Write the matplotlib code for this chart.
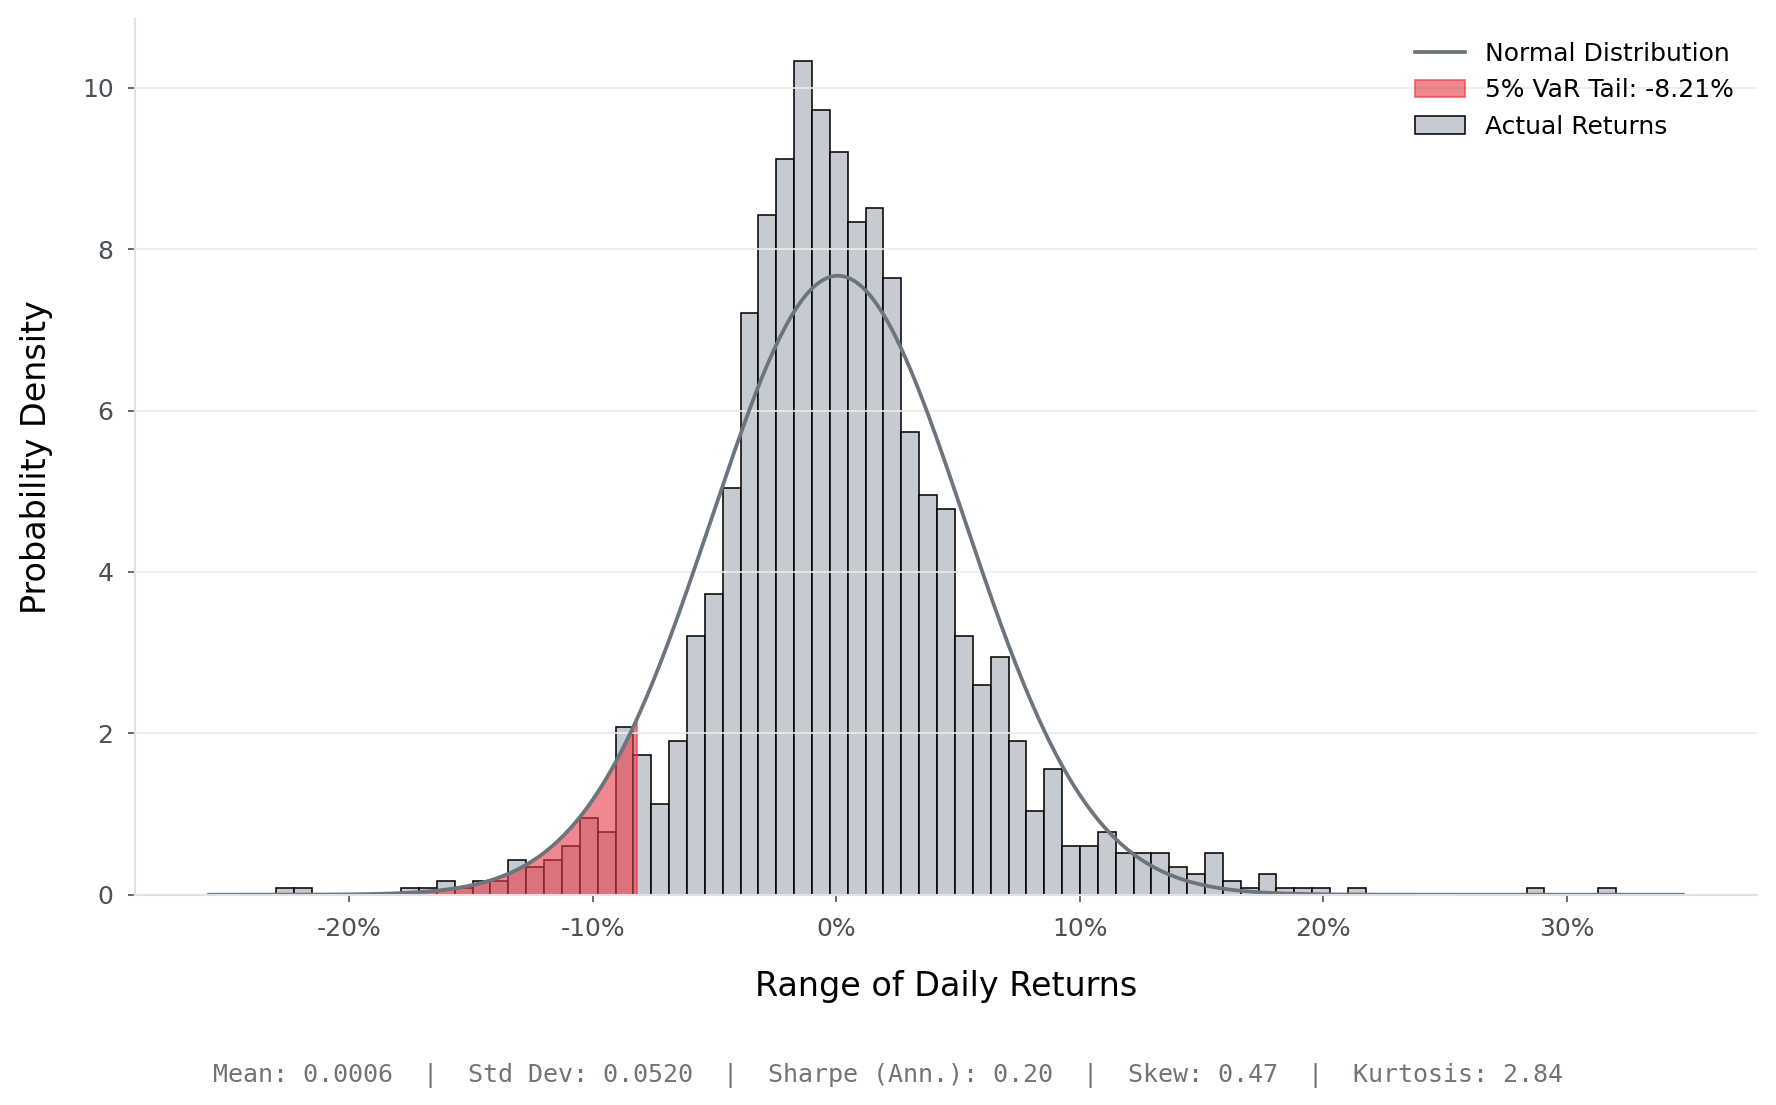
import numpy as np
import matplotlib
matplotlib.use("Agg")
import matplotlib.pyplot as plt
from matplotlib.ticker import FuncFormatter, MultipleLocator

# daily returns, 75 equal-width bins between the smallest and largest return
ret_min = -0.2301
ret_max = 0.3201
counts = [
    1, 1, 0, 0, 0, 0, 0, 1, 1, 2,
    1, 2, 2, 5, 4, 5, 7, 11, 9, 24,
    20, 13, 22, 37, 43, 58, 83, 97, 105, 119,
    112, 106, 96, 98, 88, 66, 57, 55, 37, 30,
    34, 22, 12, 18, 7, 7, 9, 6, 6, 6,
    4, 3, 6, 2, 1, 3, 1, 1, 1, 0,
    1, 0, 0, 0, 0, 0, 0, 0, 0, 0,
    1, 0, 0, 0, 1,
]

# summary statistics
mean_ret = 0.0006
std_ret = 0.0520
sharpe_ann = 0.20
skew = 0.47
kurtosis = 2.84
var_5 = -0.0821

GREY_BAR = "#C6CBD1"
LINE = "#6C757D"
RED = "#E63946"

edges = np.linspace(ret_min, ret_max, len(counts) + 1)
centers = (edges[:-1] + edges[1:]) / 2

fig = plt.figure(figsize=(1777 / 150, 1105 / 150), dpi=150)
ax = fig.add_axes([0.0762, 0.1903, 0.9123, 0.7921])

_, _, bars = ax.hist(centers, bins=edges, weights=counts, density=True,
                     color=GREY_BAR, edgecolor="black", linewidth=0.75,
                     label="Actual Returns")

# normal curve over the histogram's x range
x = np.linspace(*ax.get_xlim(), 500)
pdf = np.exp(-0.5 * ((x - mean_ret) / std_ret) ** 2) / (std_ret * np.sqrt(2 * np.pi))
line, = ax.plot(x, pdf, color=LINE, linewidth=1.8, label="Normal Distribution")

x_tail = np.linspace(x[0], var_5, 300)
pdf_tail = np.exp(-0.5 * ((x_tail - mean_ret) / std_ret) ** 2) / (std_ret * np.sqrt(2 * np.pi))
tail = ax.fill_between(x_tail, pdf_tail, color=RED, alpha=0.6,
                       label=f"5% VaR Tail: {var_5:.2%}")

ax.xaxis.set_major_locator(MultipleLocator(0.1))
ax.xaxis.set_major_formatter(FuncFormatter(lambda v, p: f"{v:.0%}"))
ax.yaxis.set_major_locator(MultipleLocator(2))

ax.grid(axis="y", color="#ebebeb", linewidth=0.8)
for s in ["top", "right"]:
    ax.spines[s].set_visible(False)
for s in ["left", "bottom"]:
    ax.spines[s].set_color("#dee2e6")
    ax.spines[s].set_linewidth(1.0)
ax.tick_params(colors="#495057", labelsize=12, width=0.8, pad=7)

ax.set_xlabel("Range of Daily Returns", fontsize=16, labelpad=14)
ax.set_ylabel("Probability Density", fontsize=16, labelpad=14)

ax.legend(handles=[line, tail, bars[0]],
          labels=["Normal Distribution", f"5% VaR Tail: {var_5:.2%}", "Actual Returns"],
          loc="upper right", frameon=False, fontsize=12)

stats = (f"Mean: {mean_ret:.4f}  |  Std Dev: {std_ret:.4f}  |  "
         f"Sharpe (Ann.): {sharpe_ann:.2f}  |  Skew: {skew:.2f}  |  "
         f"Kurtosis: {kurtosis:.2f}")
fig.text(0.5, 0.027, stats, ha="center", va="center", fontsize=12,
         family="DejaVu Sans Mono", color="#6C757D")

fig.savefig("out.png", dpi=150)
